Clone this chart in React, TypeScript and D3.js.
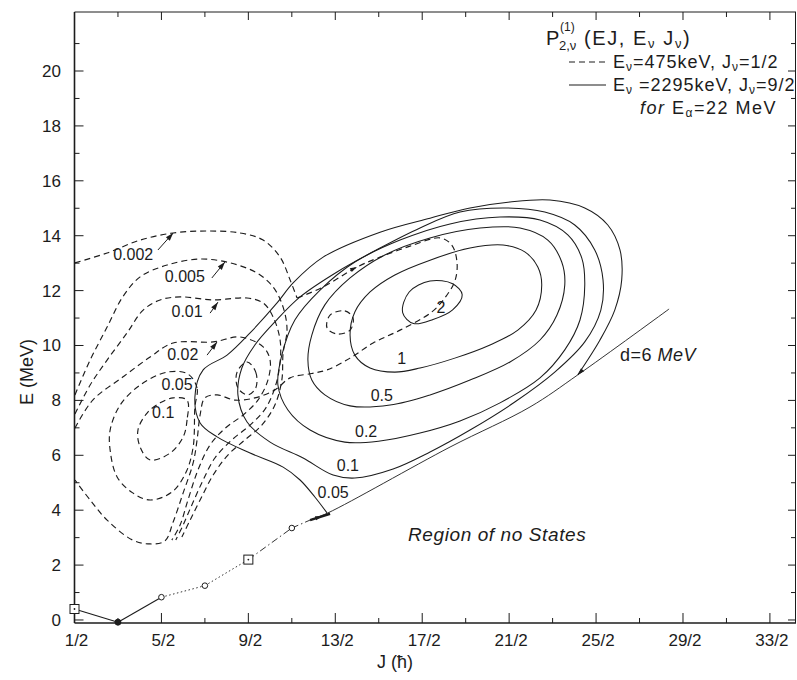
import React from "react";
import * as d3 from "d3";

const W = 797;
const H = 680;

// Axis ticks: J in units of hbar, E in MeV
const jTickValues = [0.5, 2.5, 4.5, 6.5, 8.5, 10.5, 12.5, 14.5, 16.5];
const jTickLabels = ["1/2", "5/2", "9/2", "13/2", "17/2", "21/2", "25/2", "29/2", "33/2"];
const jMinorTicks = [1.5, 3.5, 5.5, 7.5, 9.5, 11.5, 13.5, 15.5];
const eTickValues = [0, 2, 4, 6, 8, 10, 12, 14, 16, 18, 20];
const eTickLabels = ["0", "2", "4", "6", "8", "10", "12", "14", "16", "18", "20"];
const eMinorTicks = [1, 3, 5, 7, 9, 11, 13, 15, 17, 19, 21];

// Low-lying (yrast) states
const yrastJ = [0.5, 1.5, 2.5, 3.5, 4.5, 5.5];
const yrastE = [0.4, -0.08, 0.83, 1.25, 2.2, 3.35];
const yrastSymbols = ["square", "dot", "circle", "circle", "square", "circle"];
const yrastLinkStyles = ["solid", "solid", "dotted", "dotted", "dashdot"];
const yrastTail = [[5.5, 3.35], [5.92, 3.64]];
const thickSegment = [[5.92, 3.64], [6.38, 3.87]];

// Boundary of the region of no states (d = 6 MeV)
const boundaryLine = [[5.92, 3.64], [6.33, 3.9], [9.14, 6.3], [10.98, 7.76], [12.08, 8.93], [14.18, 11.33]];

// Solid contours: E_nu = 2295 keV, J_nu = 9/2
const solid2 = [[8.68, 12.35], [9.2, 12.25], [9.42, 11.85], [9.2, 11.3], [8.75, 10.95], [8.3, 10.8], [8.05, 11.2], [8.2, 11.95]];
const solid1 = [[6.84, 10.38], [6.95, 11.22], [7.3, 11.95], [7.87, 12.57], [8.68, 13.11], [9.6, 13.55], [10.36, 13.66], [10.86, 13.41], [11.16, 12.86], [11.25, 12.2], [11.12, 11.29], [10.7, 10.56], [10.06, 10.02], [9.25, 9.54], [8.45, 9.18], [7.87, 9.03], [7.3, 9.18], [6.95, 9.65]];
const solid05 = [[5.87, 9.47], [5.96, 10.38], [6.26, 11.48], [6.84, 12.46], [7.64, 13.3], [8.68, 13.92], [9.83, 14.28], [10.75, 14.28], [11.39, 13.84], [11.71, 13.04], [11.78, 12.2], [11.6, 11.11], [11.21, 10.2], [10.52, 9.4], [9.6, 8.74], [8.68, 8.2], [7.76, 7.83], [6.84, 7.8], [6.26, 8.2], [5.96, 8.74]];
const solid02 = [[5.18, 8.56], [5.27, 9.65], [5.57, 10.93], [6.15, 12.02], [6.95, 13.04], [7.99, 13.84], [9.14, 14.43], [10.29, 14.68], [11.21, 14.57], [11.85, 14.03], [12.17, 13.19], [12.24, 12.2], [12.13, 10.93], [11.78, 9.84], [11.21, 8.82], [10.29, 7.91], [9.37, 7.25], [8.45, 6.81], [7.53, 6.52], [6.72, 6.48], [5.92, 6.92], [5.41, 7.65]];
const solid01 = [[7.53, 13.55], [6.54, 12.68], [5.69, 11.77], [5.11, 10.86], [4.65, 10.02], [4.35, 9.18], [4.26, 8.2], [4.47, 7.21], [5.0, 6.48], [5.76, 5.9], [6.45, 5.28], [6.95, 5.17], [7.83, 5.5], [8.68, 6.12], [9.6, 6.92], [10.63, 7.94], [11.55, 9.03], [12.24, 10.13], [12.61, 11.29], [12.66, 12.39], [12.47, 13.48], [12.01, 14.39], [11.32, 14.86], [10.4, 15.01], [9.37, 14.86], [8.45, 14.28]];
const solid005 = [[6.31, 3.9], [6.03, 4.48], [5.69, 5.1], [5.3, 5.57], [4.54, 6.08], [3.78, 6.67], [3.39, 7.18], [3.27, 8.12], [3.46, 9.11], [4.01, 9.65], [4.54, 10.46], [5.16, 11.55], [5.53, 12.28], [6.22, 13.22], [7.53, 14.13], [8.68, 14.64], [9.6, 15.01], [10.52, 15.23], [11.44, 15.3], [12.24, 15.01], [12.77, 14.39], [13.05, 13.48], [13.09, 12.39], [12.93, 11.29], [12.59, 10.2], [12.08, 8.93]];

// Dashed contours: E_nu = 475 keV, J_nu = 1/2
const dashed0002Upper = [[0.51, 13.01], [1.25, 13.37], [2.01, 13.84], [2.77, 14.1], [3.55, 14.17], [4.31, 14.1], [4.84, 13.84], [5.23, 13.22], [5.46, 12.39], [5.62, 11.73]];
const dashed0002Lower = [[5.62, 11.73], [6.22, 12.13], [7.0, 12.86], [7.53, 13.22], [8.22, 13.62], [8.91, 13.92], [9.18, 13.66], [9.3, 13.04], [9.26, 12.39], [9.07, 11.84], [8.72, 11.22], [7.99, 10.56], [7.37, 10.09], [6.84, 9.54], [6.31, 9.11], [5.96, 8.98], [5.46, 8.82], [5.11, 8.38], [4.65, 8.09], [4.19, 8.01], [3.78, 8.2], [3.5, 8.09], [3.39, 7.47], [3.32, 6.56], [3.23, 5.72], [3.0, 4.63], [2.77, 3.57], [2.58, 2.88], [2.24, 2.77], [1.84, 2.91], [1.25, 3.64], [0.86, 4.37], [0.51, 5.1]];
const dashed0005 = [[0.51, 8.2], [0.86, 9.47], [1.25, 10.67], [1.61, 11.77], [2.01, 12.5], [2.63, 12.93], [3.39, 13.15], [4.08, 13.01], [4.7, 12.64], [5.07, 12.13], [5.3, 11.4], [5.39, 10.56], [5.3, 9.73], [5.27, 8.74], [5.11, 7.83], [4.81, 7.1], [4.42, 6.56], [4.03, 6.01], [3.69, 5.28], [3.39, 4.37], [3.16, 3.64], [2.97, 3.02]];
const dashed001 = [[0.51, 7.5], [0.86, 8.56], [1.25, 9.47], [1.71, 10.46], [2.08, 11.29], [2.47, 11.66], [2.93, 11.77], [3.69, 11.66], [4.47, 11.73], [4.84, 11.55], [5.07, 11.04], [5.23, 10.2], [5.23, 9.4], [5.13, 8.56], [4.9, 7.72], [4.54, 7.1], [4.12, 6.56], [3.73, 5.9], [3.46, 5.1], [3.2, 4.19], [3.0, 3.46], [2.83, 2.91]];
const dashed002 = [[0.51, 6.99], [0.92, 8.01], [1.61, 8.85], [2.24, 9.58], [2.77, 10.09], [3.69, 10.13], [4.31, 10.31], [4.84, 9.95], [5.0, 9.47], [4.95, 8.74], [4.72, 8.01], [4.38, 7.47], [3.97, 6.99], [3.62, 6.38], [3.34, 5.46], [3.11, 4.37], [2.93, 3.46], [2.74, 2.91]];
const dashed005 = [[3.27, 7.76], [3.32, 8.45], [3.11, 8.96], [2.63, 9.03], [2.01, 8.56], [1.55, 7.83], [1.32, 6.92], [1.32, 6.19], [1.48, 5.21], [1.84, 4.63], [2.24, 4.37], [2.74, 4.66], [3.06, 5.36], [3.23, 6.3]];
const dashed01 = [[3.09, 8.01], [3.09, 7.29], [3.0, 6.67], [2.7, 6.08], [2.24, 5.83], [2.01, 6.3], [1.96, 6.92], [2.17, 7.54], [2.47, 7.91], [2.77, 8.09]];
const dashedIslandA = [[4.47, 9.4], [4.67, 9.03], [4.67, 8.45], [4.49, 8.2], [4.26, 8.45], [4.24, 9.03]];
const dashedIslandB = [[6.38, 11.11], [6.72, 11.26], [6.91, 11.0], [6.84, 10.56], [6.54, 10.42], [6.31, 10.64]];

// Contour labels [J, E, text]
const solidLabels: [number, number, string][] = [
  [8.93, 11.37, "2"], [8.03, 9.5, "1"], [7.57, 8.16, "0.5"], [7.21, 6.85, "0.2"], [6.79, 5.61, "0.1"], [6.45, 4.63, "0.05"],
];
const dashedLabels: [number, number, string][] = [
  [1.85, 13.3, "0.002"], [3.04, 12.5, "0.005"], [3.09, 11.22, "0.01"], [2.99, 9.65, "0.02"], [2.86, 8.56, "0.05"], [2.54, 7.54, "0.1"],
];
// Leader arrows from dashed labels to their contours [fromJ, fromE, toJ, toE]
const labelArrows = [
  [2.42, 13.48, 2.77, 14.1], [3.66, 12.46, 3.96, 13.04], [3.62, 11.18, 3.8, 11.58], [3.55, 9.65, 3.78, 10.13],
];
// Arrow heads drawn on lines
const lineArrowHeads = [
  [6.8, 12.7, 7.0, 12.86], [12.3, 9.3, 12.08, 8.93], [5.95, 3.66, 6.2, 3.78],
];

const INK = "#1c1c1c";
const FONT = "'Liberation Sans', 'DejaVu Sans', sans-serif";

export default function App() {
  const x = d3.scaleLinear().domain([0.5, 17.1]).range([74.5, 796]);
  const y = d3.scaleLinear().domain([-0.11, 22.15]).range([623, 12]);
  const openLine = d3.line<number[]>().x((d) => x(d[0])).y((d) => y(d[1])).curve(d3.curveCatmullRom.alpha(0.5));
  const closedLine = d3.line<number[]>().x((d) => x(d[0])).y((d) => y(d[1])).curve(d3.curveCatmullRomClosed.alpha(0.5));
  const straight = d3.line<number[]>().x((d) => x(d[0])).y((d) => y(d[1]));

  const x0 = x.range()[0];
  const x1 = x.range()[1];
  const yb = y.range()[0];
  const yt = y.range()[1];

  const head = (a: number[], key: string, size = 8, half = 2.6) => {
    const ax = x(a[0]), ay = y(a[1]), bx = x(a[2]), by = y(a[3]);
    const ang = Math.atan2(by - ay, bx - ax);
    const cx = bx - size * Math.cos(ang), cy = by - size * Math.sin(ang);
    const px = -Math.sin(ang) * half, py = Math.cos(ang) * half;
    return <polygon key={key} points={`${bx},${by} ${cx + px},${cy + py} ${cx - px},${cy - py}`} fill={INK} />;
  };

  const dash = "6 4";
  const dashedPathsOpen = [dashed0002Upper, dashed0002Lower, dashed0005, dashed001, dashed002];
  const dashedPathsClosed = [dashed005, dashed01, dashedIslandA, dashedIslandB];
  const solidClosed = [solid2, solid1, solid05, solid02, solid01];

  const linkDash: Record<string, string | undefined> = { solid: undefined, dotted: "1.5 2.5", dashdot: "7 3 1.5 3" };

  return (
    <svg width={W} height={H} viewBox={`0 0 ${W} ${H}`} style={{ position: "absolute", left: 0, top: 0, background: "#fff" }} fontFamily={FONT}>
      <rect x={0} y={0} width={W} height={H} fill="#fff" />

      {/* frame */}
      <g stroke={INK} fill="none">
        <line x1={x0} y1={yb} x2={x1} y2={yb} strokeWidth={1.6} />
        <line x1={x0} y1={yt} x2={x0} y2={yb} strokeWidth={1.6} />
        <line x1={x0} y1={yt} x2={x1} y2={yt} strokeWidth={1} />
        <line x1={x1 - 0.5} y1={yt} x2={x1 - 0.5} y2={yb} strokeWidth={1} />
      </g>

      {/* ticks */}
      <g stroke={INK} strokeWidth={1}>
        {jTickValues.map((v) => (
          <g key={"jt" + v}>
            <line x1={x(v)} x2={x(v)} y1={yb} y2={yb - 10} />
            <line x1={x(v)} x2={x(v)} y1={yt} y2={yt + 8} />
          </g>
        ))}
        {jMinorTicks.map((v) => (
          <g key={"jm" + v}>
            <line x1={x(v)} x2={x(v)} y1={yb} y2={yb - 5} />
            <line x1={x(v)} x2={x(v)} y1={yt} y2={yt + 5} />
          </g>
        ))}
        {eTickValues.map((v) => (
          <g key={"et" + v}>
            <line x1={x0} x2={x0 + 9} y1={y(v)} y2={y(v)} />
            <line x1={x1} x2={x1 - 8} y1={y(v)} y2={y(v)} />
          </g>
        ))}
        {eMinorTicks.map((v) => (
          <g key={"em" + v}>
            <line x1={x0} x2={x0 + 5} y1={y(v)} y2={y(v)} />
            <line x1={x1} x2={x1 - 5} y1={y(v)} y2={y(v)} />
          </g>
        ))}
      </g>

      {/* tick labels */}
      <g fill={INK} fontSize={17}>
        {jTickValues.map((v, i) => (
          <text key={"jl" + v} x={x(v) + 2} y={646} textAnchor="middle">{jTickLabels[i]}</text>
        ))}
        {eTickValues.map((v, i) => (
          <text key={"el" + v} x={61} y={y(v) + 6} textAnchor="end">{eTickLabels[i]}</text>
        ))}
      </g>

      {/* axis titles */}
      <text x={395} y={668} textAnchor="middle" fontSize={18} fill={INK}>J (ħ)</text>
      <text transform="translate(33,372) rotate(-90)" textAnchor="middle" fontSize={18} fill={INK}>E (MeV)</text>

      {/* solid contours */}
      <g fill="none" stroke={INK} strokeWidth={1.05}>
        {solidClosed.map((c, i) => <path key={"sc" + i} d={closedLine(c) || ""} />)}
        <path d={openLine(solid005) || ""} />
      </g>

      {/* dashed contours */}
      <g fill="none" stroke={INK} strokeWidth={1.15} strokeDasharray={dash}>
        {dashedPathsOpen.map((c, i) => <path key={"do" + i} d={openLine(c) || ""} />)}
        {dashedPathsClosed.map((c, i) => <path key={"dc" + i} d={closedLine(c) || ""} />)}
      </g>

      {/* boundary and yrast line */}
      <g fill="none" stroke={INK}>
        <path d={openLine(boundaryLine) || ""} strokeWidth={0.9} />
        <path d={straight(thickSegment) || ""} strokeWidth={2.4} />
        {yrastLinkStyles.map((s, i) => (
          <path key={"yl" + i} d={straight([[yrastJ[i], yrastE[i]], [yrastJ[i + 1], yrastE[i + 1]]]) || ""}
            strokeWidth={s === "solid" ? 1.1 : 0.9} strokeDasharray={linkDash[s]} />
        ))}
        <path d={straight(yrastTail) || ""} strokeWidth={0.9} strokeDasharray={linkDash.dashdot} />
      </g>

      {/* yrast markers */}
      <g stroke={INK} strokeWidth={1}>
        {yrastJ.map((j, i) => {
          const cx = x(j), cy = y(yrastE[i]);
          const s = yrastSymbols[i];
          if (s === "square") return (
            <g key={"ym" + i}>
              <rect x={cx - 4.5} y={cy - 4.5} width={9} height={9} fill="#fff" />
              <circle cx={cx} cy={cy} r={0.9} fill={INK} stroke="none" />
            </g>
          );
          if (s === "dot") return <circle key={"ym" + i} cx={cx} cy={cy} r={3} fill={INK} />;
          return <circle key={"ym" + i} cx={cx} cy={cy} r={2.8} fill="#fff" />;
        })}
      </g>

      {/* arrows */}
      <g stroke={INK} strokeWidth={1}>
        {labelArrows.map((a, i) => (
          <line key={"la" + i} x1={x(a[0])} y1={y(a[1])} x2={x(a[2])} y2={y(a[3])} />
        ))}
      </g>
      {labelArrows.map((a, i) => head(a, "lh" + i))}
      {lineArrowHeads.map((a, i) => head(a, "ah" + i, 7, 2.2))}

      {/* contour labels */}
      <g fill={INK} fontSize={16} textAnchor="middle">
        {solidLabels.map(([j, e, t]) => <text key={"sl" + t} x={x(j)} y={y(e) + 5}>{t}</text>)}
        {dashedLabels.map(([j, e, t]) => <text key={"dl" + t} x={x(j)} y={y(e) + 5}>{t}</text>)}
      </g>

      {/* annotations */}
      <text x={620} y={361} fontSize={18} fill={INK} letterSpacing={0.5}>d=6 <tspan fontStyle="italic">MeV</tspan></text>
      <text x={408} y={541} fontSize={19} fill={INK} fontStyle="italic" letterSpacing={0.6}>Region  of  no  States</text>

      {/* legend */}
      <g fill={INK}>
        <text x={546} y={45} fontSize={20}>P</text>
        <text x={560} y={31} fontSize={12}>(1)</text>
        <text x={559} y={50} fontSize={13}>2,ν</text>
        <text x={584} y={45} fontSize={20} letterSpacing={1.6}>(EJ, E<tspan fontSize={13} dy={3}>ν</tspan><tspan dy={-3}> J</tspan><tspan fontSize={13} dy={3}>ν</tspan><tspan dy={-3}>)</tspan></text>
        <line x1={569} x2={606} y1={62} y2={62} stroke={INK} strokeWidth={1.1} strokeDasharray="6 4" />
        <text x={613} y={68} fontSize={18} letterSpacing={1}>E<tspan fontSize={12} dy={3}>ν</tspan><tspan dy={-3}>=475keV,  J</tspan><tspan fontSize={12} dy={3}>ν</tspan><tspan dy={-3}>=1/2</tspan></text>
        <line x1={569} x2={606} y1={85} y2={85} stroke={INK} strokeWidth={1.1} />
        <text x={613} y={91} fontSize={18} letterSpacing={1}>E<tspan fontSize={12} dy={3}>ν</tspan><tspan dy={-3}> =2295keV, J</tspan><tspan fontSize={12} dy={3}>ν</tspan><tspan dy={-3}>=9/2</tspan></text>
        <text x={640} y={114} fontSize={18} letterSpacing={1.5}><tspan fontStyle="italic">for</tspan>  E<tspan fontSize={12} dy={3}>α</tspan><tspan dy={-3}>=22 MeV</tspan></text>
      </g>
    </svg>
  );
}
